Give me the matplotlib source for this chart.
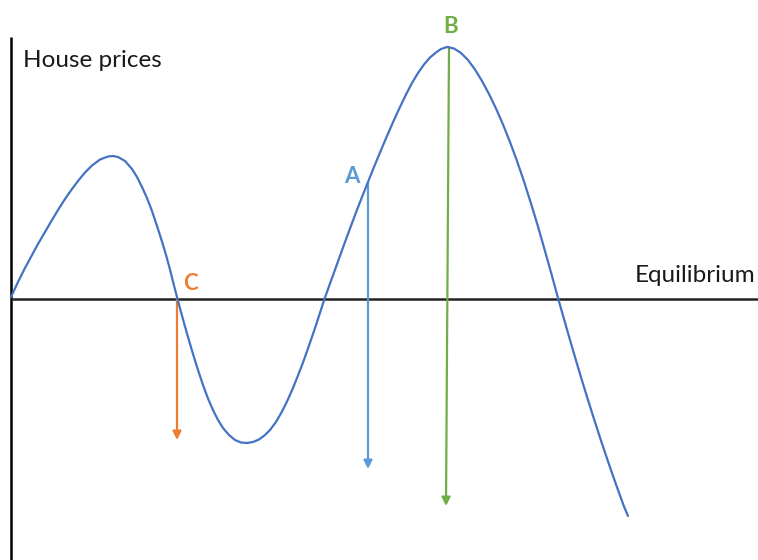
import matplotlib
matplotlib.use("Agg")
import matplotlib.pyplot as plt

# Curve (x position, price deviation from equilibrium)
curve_x = [11, 18, 25, 32, 38, 45, 52, 58, 65, 72, 78, 85, 92, 100, 108, 113, 118, 125, 132, 137,
           142, 147, 152, 157, 162, 166, 170, 174, 177.5,
           181, 185, 189, 193, 198, 203, 208, 213, 218, 223, 229, 235, 241, 247, 253, 259, 265,
           270, 276, 282, 287, 293, 298, 303, 308, 313, 318, 323, 324.5,
           330, 336, 343, 350, 356, 362, 368, 374, 380, 387, 394, 400, 406, 412, 418, 424, 430,
           436, 441, 447,
           454, 461, 468, 475, 482, 489, 496, 503, 510, 517, 524, 531, 538, 545, 552, 558,
           564, 570, 576, 582, 588, 594, 600, 606, 612, 618, 624, 628]
curve_y = [2, 17, 31, 44, 55, 67, 79, 89, 100, 110, 118, 126.5, 133.5, 139.5, 142.5, 143, 142, 138, 130, 122,
           112, 101, 88, 73, 57.5, 44, 29.5, 13.5, 0,
           -13, -27.5, -41.5, -55, -71, -86, -99.5, -111, -121, -129, -136, -141, -143.5, -144, -143, -140.5, -136,
           -131, -123, -112.5, -102.5, -89, -76.5, -63.5, -49.5, -35, -20, -4.5, 0,
           15.5, 32, 51.5, 70.5, 86.5, 102, 117, 132, 146.5, 163, 179, 192, 204.5, 216, 226, 234.5, 241.5,
           246.5, 250, 252,
           250.5, 246, 239, 229.5, 218, 205, 190.5, 174.5, 157, 138, 117.5, 95.5, 72.5, 48, 23, 1,
           -20, -41, -61.5, -81.5, -101, -120, -138.5, -156.5, -174, -191, -207.5, -217]

equilibrium_label = "Equilibrium"
axis_label = "House prices"

# Arrows: label, start (x, y), end (x, y), color
points = ["C", "A", "B"]
arrow_start_x = [177, 368, 449]
arrow_start_y = [0, 117, 252]
arrow_end_x = [177, 368, 446]
arrow_end_y = [-141, -170, -207]
point_colors = ["#ED7D31", "#5B9BD5", "#70AD47"]
label_x = [190, 352, 451]
label_y = [9, 116, 266]

plt.rcParams['font.family'] = ['Lato', 'DejaVu Sans']

fig = plt.figure(figsize=(7.58, 5.6), dpi=100)
ax = fig.add_axes([0, 0, 1, 1])
ax.set_xlim(0, 758)
ax.set_ylim(-261, 299)
ax.axis('off')

# axes lines
ax.plot([11, 11], [-261, 262], color='black', lw=1.8, solid_capstyle='butt')
ax.plot([11, 758], [0, 0], color='#222222', lw=1.8, solid_capstyle='butt')

ax.plot(curve_x, curve_y, color='#4472C4', lw=1.6, solid_joinstyle='round',
        solid_capstyle='round', zorder=3)

for lab, sx, sy, ex, ey, c, lx, ly in zip(points, arrow_start_x, arrow_start_y, arrow_end_x,
                                           arrow_end_y, point_colors, label_x, label_y):
    ax.annotate('', xy=(ex, ey), xytext=(sx, sy),
                arrowprops=dict(arrowstyle='-|>,head_length=0.5,head_width=0.25', color=c, lw=1.6,
                                shrinkA=0, shrinkB=0), zorder=2)
    ax.text(lx, ly, lab, color=c, fontsize=16, fontweight='bold', ha='center', va='baseline')

ax.text(23, 232, axis_label, fontsize=17.5, ha='left', va='baseline', color='#1a1a1a')
ax.text(755, 17, equilibrium_label, fontsize=17.5, ha='right', va='baseline', color='#1a1a1a')

fig.savefig('out.png', dpi=100)
